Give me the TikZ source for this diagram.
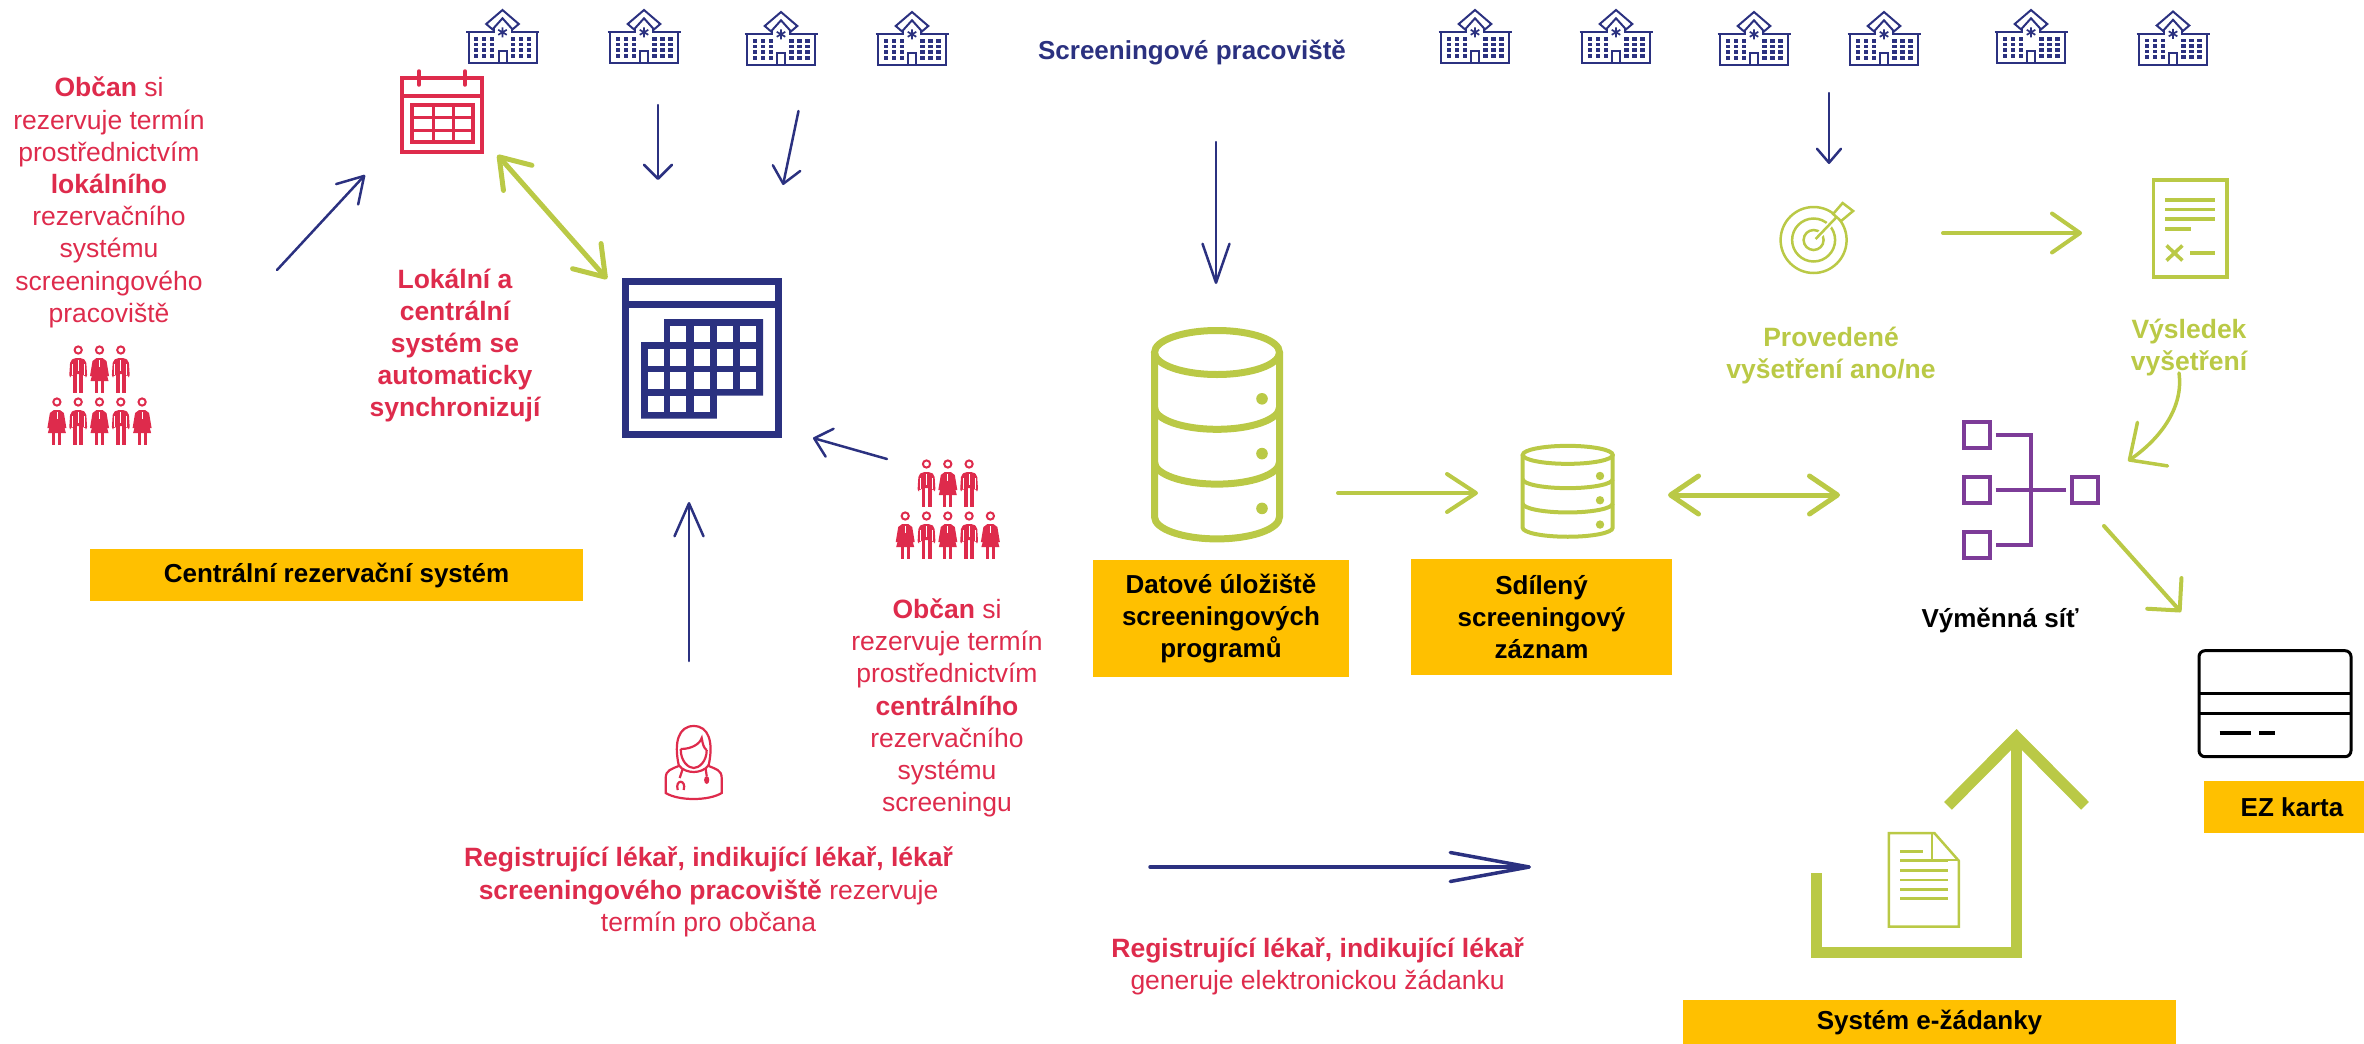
\documentclass[tikz,border=0pt]{standalone}
\usepackage{fontspec}
\setsansfont{Liberation Sans}
\usepackage{tikz}
\usetikzlibrary{
    arrows.meta,
    positioning
}
\definecolor{navyline}{HTML}{2B3180}
\definecolor{redline}{HTML}{DE2B4C}
\definecolor{greenline}{HTML}{BAC946}
\definecolor{purpleline}{HTML}{7D3C98}
\definecolor{labelyellow}{HTML}{FFC000}

\newcommand{\hospitalicon}{
    \draw[navyline, line width=2] (-36.5,-4.7) -- (-9,-4.7) -- (-9,-9);
    \draw[navyline, line width=2] (36.5,-4.7) -- (9,-4.7) -- (9,-9);
    \draw[navyline, line width=2] (-34,-4.7) -- (-34,26) -- (34,26) -- (34,-4.7);
    \draw[navyline, line width=2] (0,-27) -- (16.3,-13) -- (10,-7.6) -- (0,-18.7) -- (-10,-7.6) -- (-16.3,-13) -- cycle;
    \draw[navyline, line width=1.7] (0,-9.7) -- (0,.3) (-4.3,-7.2) -- (4.3,-2.2) (-4.3,-2.2) -- (4.3,-7.2);
    \draw[navyline, line width=2] (-4,26) -- (-4,14) -- (4,14) -- (4,26);
    \foreach \x in {-26.3,-18.3,-10.3,10.3,18.3,26.3} {
        \foreach \y in {2,7.5,13,18.7} {
            \fill[navyline] (\x-2.2,\y-1.9) rectangle (\x+2.2,\y+1.9);
        }
    }
}
\newcommand{\manicon}[2]{
    \begin{scope}[shift={(#1,#2)}]
        \draw[redline, line width=2] (0,0) circle[radius=3.6pt];
        \fill[redline, rounded corners=2pt] (-9,27) -- (-8,11) -- (-4,8) -- (4,8) -- (8,11) -- (9,27) -- (6.5,27) -- (5.5,24) -- (-5.5,24) -- (-6.5,27) -- cycle;
        \fill[redline] (-5,24) rectangle (-1.2,43);
        \fill[redline] (1.2,24) rectangle (5,43);
        \draw[white, line width=.7] (0,10) -- (0,21) (-6,14) -- (-6,25) (6,14) -- (6,25);
    \end{scope}
}
\newcommand{\womanicon}[2]{
    \begin{scope}[shift={(#1,#2)}]
        \draw[redline, line width=2] (0,0) circle[radius=3.6pt];
        \fill[redline] (-3,8) -- (3,8) -- (7,11) -- (9.5,26) -- (7.5,26) -- (5,16) -- (9,31) -- (-9,31) -- (-5,16) -- (-7.5,26) -- (-9.5,26) -- (-7,11) -- cycle;
        \fill[redline] (-4.5,31) rectangle (-1.5,43);
        \fill[redline] (1.5,31) rectangle (4.5,43);
        \draw[white, line width=.7] (0,10) -- (0,17);
    \end{scope}
}
\newcommand{\citizensicon}{
    \manicon{-21.3}{-45.5}
    \womanicon{0}{-45.5}
    \manicon{21.3}{-45.5}
    \womanicon{-42.6}{6.5}
    \manicon{-21.3}{6.5}
    \womanicon{0}{6.5}
    \manicon{21.3}{6.5}
    \womanicon{42.6}{6.5}
}
% rx, ry, rozestup, x tecky, y tecky, polomer tecky, tloustka
\newcommand{\dbstack}[7]{
    \draw[greenline, line width=#7] (-#1,-1.5*#3) -- (-#1,1.5*#3) arc[start angle=180, end angle=360, x radius=#1pt, y radius=#2pt] -- (#1,-1.5*#3);
    \draw[greenline, line width=#7] (0,-1.5*#3) ellipse[x radius=#1pt, y radius=#2pt];
    \draw[greenline, line width=#7] (-#1,-.5*#3) arc[start angle=180, end angle=360, x radius=#1pt, y radius=#2pt];
    \draw[greenline, line width=#7] (-#1,.5*#3) arc[start angle=180, end angle=360, x radius=#1pt, y radius=#2pt];
    \fill[greenline] (#4,-.5*#3+#5) circle[radius=#6pt];
    \fill[greenline] (#4,.5*#3+#5) circle[radius=#6pt];
    \fill[greenline] (#4,1.5*#3+#5) circle[radius=#6pt];
}

\tikzstyle{icon} = [
    inner sep=0pt,
    outer sep=0pt
]
\tikzstyle{yellowbox} = [
    rectangle,
    inner sep=0pt,
    align=center,
    fill=labelyellow,
    font=\fontsize{26}{32}\selectfont\sffamily\bfseries
]
\tikzstyle{rednote} = [
    align=center,
    inner sep=0pt,
    text=redline,
    font=\fontsize{26.5}{32.2}\selectfont\sffamily
]
\tikzstyle{greennote} = [
    align=center,
    inner sep=0pt,
    text=greenline,
    font=\fontsize{26.5}{32.2}\selectfont\sffamily\bfseries
]
\tikzstyle{thinarrow} = [
    navyline,
    line width=2.5,
    line cap=round
]
\tikzstyle{greenarrow} = [
    greenline,
    line width=4,
    line cap=round
]

\begin{document}
\begin{tikzpicture}[
    x=1pt, y=-1pt,
    font=\sffamily,
    barb/.style 2 args={-{Straight Barb[length=#1pt, width=#2pt, round]}},
    squarebarb/.style 2 args={-{Straight Barb[length=#1pt, width=#2pt]}},
    twobarb/.style 2 args={{Straight Barb[length=#1pt, width=#2pt, round]}-{Straight Barb[length=#1pt, width=#2pt, round]}},
    hospital/.style={icon, minimum width=78pt, minimum height=62pt, path picture={\hospitalicon}},
    citizens/.style={icon, minimum width=112pt, minimum height=108pt},
    pics/crowd/.style={code={\citizensicon}}
]
\useasboundingbox (0,0) rectangle (2364,1044);

% Screeningova pracoviste
\node[hospital] (hospitalA) at (502.5,37) {};
\node[hospital, right=63.5pt of hospitalA] (hospitalB) {};
\node[hospital, right=59pt of hospitalB, yshift=-2pt] (hospitalC) {};
\node[hospital, right=53pt of hospitalC] (hospitalD) {};
\node[hospital] (hospitalE) at (1475,37) {};
\node[hospital, right=63pt of hospitalE] (hospitalF) {};
\node[hospital, right=60pt of hospitalF, yshift=-2pt] (hospitalG) {};
\node[hospital, right=52pt of hospitalG] (hospitalH) {};
\node[hospital, right=69pt of hospitalH, yshift=2pt] (hospitalI) {};
\node[hospital, right=64pt of hospitalI, yshift=-1.5pt] (hospitalJ) {};
\node[font=\fontsize{26}{32}\selectfont\sffamily\bfseries, text=navyline, inner sep=0pt] (screening) at (1192,53) {Screeningové pracoviště};

% Rezervace
\node[rednote] (citizentextA) at (109,202.5) {
    \textbf{Občan} si \\
    rezervuje termín \\
    prostřednictvím \\
    \textbf{lokálního} \\
    rezervačního \\
    systému \\
    screeningového \\
    pracoviště
};
\node[citizens] (citizensA) at (99.5,395.5) {};
\pic at (citizensA) {crowd};
\node[citizens] (citizensB) at (947.8,509.5) {};
\pic at (citizensB) {crowd};
\node[rednote] (citizentextB) at (947,708) {
    \textbf{Občan} si \\
    rezervuje termín \\
    prostřednictvím \\
    \textbf{centrálního} \\
    rezervačního \\
    systému \\
    screeningu
};
\node[rednote, font=\fontsize{26.5}{32.2}\selectfont\sffamily\bfseries] (synctext) at (455,345.5) {
    Lokální a \\
    centrální \\
    systém se \\
    automaticky \\
    synchronizují
};
\node[yellowbox, minimum width=493pt, minimum height=52pt] (central) at (336.5,575) {\raisebox{-1.5pt}{Centrální rezervační systém}};

% Kalendar lokalni
\node[icon, minimum width=86pt, minimum height=86pt, path picture={
    \draw[redline, line width=3.5] (-40,-33) rectangle (40,41);
    \draw[redline, line width=3.5] (-40,-15) -- (40,-15);
    \draw[redline, line width=3.5, line cap=round] (-23,-40) -- (-23,-26) (23,-40) -- (23,-26);
    \draw[redline, line width=3.5] (-30,-6) rectangle (31,31);
    \draw[redline, line width=3] (-9,-6) -- (-9,31) (11,-6) -- (11,31) (-30,6) -- (31,6) (-30,19) -- (31,19);
}] (localcalendar) at (442,111) {};

% Kalendar centralni
\node[icon, minimum width=168pt, minimum height=168pt, path picture={
    \draw[navyline, line width=7] (-76.5,-76.5) rectangle (76.5,76.5);
    \draw[navyline, line width=7] (-76,-53.5) -- (76,-53.5);
    \fill[navyline] (-38,-39) -- (61,-39) -- (61,37.7) -- (14.8,37.7) -- (14.8,60.7) -- (-61,60.7) -- (-61,-16) -- (-38,-16) -- cycle;
    \foreach \x in {-31.6,-8.4,14.8,37.8} {
        \foreach \y in {-32.3,-9,14.3} {
            \fill[white] (\x,\y) rectangle (\x+16,\y+16.6);
        }
    }
    \foreach \y in {-9,14.3} {
        \fill[white] (-54,\y) rectangle (-38,\y+16.6);
    }
    \foreach \x in {-54,-31.6,-8.4} {
        \fill[white] (\x,37.7) rectangle (\x+16,54.3);
    }
}] (bigcalendar) at (702,358) {};

% Lekar
\node[icon, minimum width=62pt, minimum height=80pt, path picture={
    \begin{scope}[redline, line width=2.2]
        \draw (-15,3) .. controls (-20,-20) and (-15,-36) .. (0,-36) .. controls (15,-36) and (20,-20) .. (15,3);
        \draw (-13,-13) .. controls (-2,-13) and (6,-18) .. (8,-24) .. controls (9,-18) and (10,-14) .. (13,-12);
        \draw (-13,-13) .. controls (-13,0) and (-5,6) .. (0,6) .. controls (5,6) and (13,0) .. (13,-12);
        \draw (-15,3) .. controls (-12,8) and (-5,10) .. (0,10) .. controls (5,10) and (12,8) .. (15,3);
        \draw (-15,4) .. controls (-22,7) and (-28,8) .. (-28,16) -- (-28,31) .. controls (-15,39) and (15,39) .. (28,31) -- (28,16) .. controls (28,8) and (22,7) .. (15,4);
        \draw (-11,7) -- (-14,16);
        \draw (-10,28) .. controls (-7,17) and (-19,17) .. (-16,28);
        \draw (12,7) -- (13,14);
        \fill (13,18) ellipse[x radius=2.6pt, y radius=4pt];
    \end{scope}
}] (doctor) at (693.7,762) {};
\node[rednote] (doctortext) at (708.5,892) {
    \textbf{Registrující lékař, indikující lékař, lékař} \\
    \textbf{screeningového pracoviště} rezervuje \\
    termín pro občana
};
\node[rednote] (requesttext) at (1317.6,966) {
    \textbf{Registrující lékař, indikující lékař} \\
    generuje elektronickou žádanku
};

% Uloziste
\node[icon, minimum width=140pt, minimum height=224pt, path picture={\dbstack{62.5}{22}{54.8}{45}{-8.5}{5.8}{7}}] (bigdb) at (1217,434.7) {};
\node[yellowbox, minimum width=256pt, minimum height=117pt] (storage) at (1221,618.5) {
    Datové úložiště \\
    screeningových \\
    programů
};
\node[icon, minimum width=100pt, minimum height=100pt, path picture={\dbstack{45}{9}{24.3}{32.3}{-3.2}{4.2}{4}}] (smalldb) at (1567.7,491.3) {};
\node[yellowbox, minimum width=261pt, minimum height=116pt] (shared) at (1541.5,617) {
    Sdílený \\
    screeningový \\
    záznam
};

% Terc a vysledek
\node[icon, minimum width=112pt, minimum height=112pt, path picture={
    \draw[greenline, line width=2.5] (0,0) circle[radius=33pt] (0,0) circle[radius=21.5pt] (0,0) circle[radius=10pt];
    \draw[white, line width=6] (2,-1) -- (24,-24);
    \draw[greenline, line width=2.5] (2,-1) -- (24,-24);
    \draw[greenline, line width=2.5, fill=white] (29,-37) -- (39.5,-29) -- (27.5,-19) -- (19.5,-26) -- cycle;
}] (target) at (1813.6,240) {};
\node[greennote] (examtext) at (1831,355.5) {
    Provedené \\
    vyšetření ano/ne
};
\node[icon, minimum width=80pt, minimum height=104pt, path picture={
    \draw[greenline, line width=3.8] (-36.6,-48.5) rectangle (36.6,48.5);
    \draw[greenline, line width=3.5] (-25,-28.5) -- (25,-28.5) (-25,-19) -- (25,-19) (-25,-9.3) -- (25,-9.3) (-25,.5) -- (1,.5);
    \draw[greenline, line width=3.5] (-23.5,17) -- (-7.6,32) (-23.5,32) -- (-7.6,17);
    \draw[greenline, line width=3.5] (0,24.5) -- (25,24.5);
}] (resultdoc) at (2190,228.5) {};
\node[greennote] (resulttext) at (2189,347.5) {
    Výsledek \\
    vyšetření
};

% Vymenna sit
\node[icon, minimum width=142pt, minimum height=142pt, path picture={
    \draw[purpleline, line width=4] (-67,-68) rectangle (-41,-42);
    \draw[purpleline, line width=4] (-67,-13) rectangle (-41,13);
    \draw[purpleline, line width=4] (-67,42) rectangle (-41,68);
    \draw[purpleline, line width=4] (41,-13) rectangle (67,13);
    \draw[purpleline, line width=4] (-35.5,-55) -- (0,-55) -- (0,55) -- (-35.5,55) (-35.5,0) -- (35,0);
}] (network) at (2031,490) {};
\node[inner sep=0pt, font=\fontsize{26}{32}\selectfont\sffamily\bfseries] (networktext) at (2000,620) {Výměnná síť};

% EZ karta
\node[icon, minimum width=156pt, minimum height=110pt, path picture={
    \draw[black, line width=3, rounded corners=6pt] (-76,-53) rectangle (76,53);
    \draw[black, line width=3] (-76,-10.7) -- (76,-10.7) (-76,9.3) -- (76,9.3);
    \draw[black, line width=4] (-55.5,29) -- (-24,29) (-16,29) -- (.4,29);
}] (card) at (2275,703.7) {};
\node[yellowbox, minimum width=160pt, minimum height=52pt] (ezcard) at (2284,807) {\hspace{16pt}EZ karta};

% Zadanka
\node[icon, minimum width=76pt, minimum height=98pt, path picture={
    \draw[greenline, line width=2.5] (-35,-46.8) -- (10.5,-46.8) -- (35,-19) -- (35,46.8) -- (-35,46.8) -- cycle;
    \draw[greenline, line width=2.5] (8,-46.8) -- (8,-20) -- (35,-20);
    \draw[greenline, line width=2.5] (-23.8,-28.5) -- (-.8,-28.5) (-23.8,-19.5) -- (23.7,-19.5) (-23.8,-9.5) -- (23.7,-9.5) (-23.8,0) -- (23.7,0) (-23.8,9.5) -- (23.7,9.5) (-23.8,18.5) -- (23.7,18.5);
}] (requestdoc) at (1923.8,879.8) {};
\node[yellowbox, minimum width=493pt, minimum height=44pt] (requestsystem) at (1929.5,1022) {\raisebox{-5pt}{Systém e-žádanky}};

% Volne konce spojnic
\coordinate (citizensAout) at (277,270);
\coordinate (localcalendarin) at (365,175);
\coordinate (localcalendarsync) at (497.5,155);
\coordinate (bigcalendarsync) at (607,279);
\coordinate (hospitalBout) at (658,105);
\coordinate (bigcalendarinA) at (658,180);
\coordinate (hospitalCout) at (798.5,111);
\coordinate (bigcalendarinB) at (783,185);
\coordinate (screeningout) at (1216,142);
\coordinate (bigdbin) at (1216,284);
\coordinate (citizensBout) at (887,459);
\coordinate (bigcalendarinC) at (813,438);
\coordinate (doctorout) at (689,661);
\coordinate (bigcalendarinD) at (689,502);
\coordinate (doctortextout) at (1150,867);
\coordinate (requestin) at (1531,867);
\coordinate (bigdbout) at (1338,493);
\coordinate (smalldbin) at (1478,493);
\coordinate (smalldbex) at (1668,495);
\coordinate (networkex) at (1840,495);
\coordinate (hospitalGout) at (1829,93);
\coordinate (targetin) at (1829,164);
\coordinate (targetout) at (1943,233);
\coordinate (resultin) at (2082,233);
\coordinate (resulttextout) at (2179,373);
\coordinate (networkin) at (2128,461);
\coordinate (networkout) at (2104,526);
\coordinate (cardin) at (2181,612);
\coordinate (requeststart) at (1816,873);
\coordinate (requestcornerA) at (1816,952.5);
\coordinate (requestcornerB) at (2016.5,952.5);
\coordinate (requesttip) at (2016.5,729);

% Spojnice
\draw[thinarrow, barb={25}{30}] (citizensAout) -- (localcalendarin);
\draw[greenarrow, line width=5, twobarb={28}{38}] (localcalendarsync) -- (bigcalendarsync);
\draw[thinarrow, barb={14}{28}] (hospitalBout) -- (bigcalendarinA);
\draw[thinarrow, barb={16}{28}] (hospitalCout) -- (bigcalendarinB);
\draw[thinarrow, barb={39}{27}] (screeningout) -- (bigdbin);
\draw[thinarrow, barb={16}{29}] (citizensBout) -- (bigcalendarinC);
\draw[thinarrow, barb={33}{29}] (doctorout) -- (bigcalendarinD);
\draw[thinarrow, line width=3.5, barb={79}{29}] (doctortextout) -- (requestin);
\draw[greenarrow, barb={29}{38}] (bigdbout) -- (smalldbin);
\draw[greenarrow, line width=5, twobarb={28}{38}] (smalldbex) -- (networkex);
\draw[thinarrow, barb={14}{24}] (hospitalGout) -- (targetin);
\draw[greenarrow, barb={28}{39}] (targetout) -- (resultin);
\draw[greenarrow, line width=3.5, barb={28}{53}] (resulttextout) .. controls (2184,410) and (2157,441) .. (networkin);
\draw[greenarrow, barb={23}{46}] (networkout) -- (cardin);
\draw[greenline, line width=11, line cap=butt, squarebarb={69}{137}] (requeststart) -- (requestcornerA) -- (requestcornerB) -- (requesttip);

\end{tikzpicture}
\end{document}
